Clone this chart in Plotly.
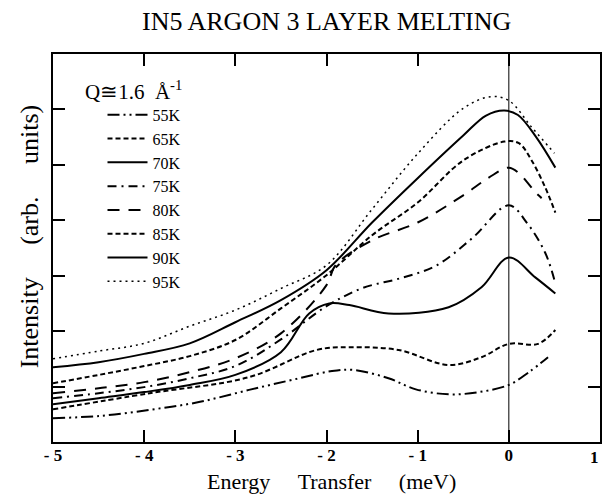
import plotly.graph_objects as go

# ---- data (energy transfer in meV, intensity in arb. units) ----
labels = ["55K", "65K", "70K", "75K", "80K", "85K", "90K", "95K"]

x55 = [-5, -4.49, -3.94, -3.40, -2.85, -2.30, -1.94, -1.70, -1.32, -1.02, -0.66, -0.33, 0.0, 0.22, 0.43]
y55 = [0.43, 0.47, 0.58, 0.72, 0.94, 1.15, 1.28, 1.30, 1.15, 0.95, 0.86, 0.90, 1.03, 1.26, 1.53]

x65 = [-5, -3.94, -2.85, -2.11, -1.75, -1.21, -0.66, -0.30, 0.0, 0.32, 0.51]
y65 = [0.59, 0.88, 1.17, 1.66, 1.71, 1.66, 1.39, 1.53, 1.77, 1.77, 2.02]

x70 = [-5, -4.5, -4, -3.5, -3, -2.5, -2.19, -1.97, -1.75, -1.32, -0.66, -0.30, 0.0, 0.29, 0.51]
y70 = [0.68, 0.79, 0.90, 1.03, 1.21, 1.62, 2.32, 2.50, 2.47, 2.32, 2.43, 2.79, 3.33, 2.97, 2.68]

x75 = [-5, -4.5, -4, -3.5, -3, -2.5, -2.0, -1.6, -1.2, -0.8, -0.4, 0.0, 0.2, 0.4, 0.51]
y75 = [0.79, 0.88, 0.99, 1.15, 1.37, 1.85, 2.45, 2.78, 2.95, 3.18, 3.68, 4.27, 3.95, 3.41, 2.86]

x80 = [-5, -4.5, -4, -3.5, -3, -2.5, -2.0, -1.9, -1.5, -1.0, -0.5, -0.22, 0.0, 0.11, 0.30, 0.36]
y80 = [0.88, 0.97, 1.08, 1.26, 1.51, 1.96, 2.83, 3.19, 3.64, 3.96, 4.45, 4.77, 4.95, 4.85, 4.49, 4.40]

x85 = [-5, -4.5, -4, -3.5, -3, -2.5, -2.0, -1.5, -1.0, -0.5, -0.05, 0.11, 0.25, 0.40, 0.51]
y85 = [1.06, 1.21, 1.37, 1.55, 1.84, 2.41, 3.01, 3.73, 4.32, 5.08, 5.42, 5.39, 5.08, 4.59, 4.14]

x90 = [-5, -4.5, -4, -3.5, -3, -2.5, -2.0, -1.5, -1.0, -0.5, -0.25, -0.05, 0.1, 0.3, 0.51]
y90 = [1.35, 1.44, 1.59, 1.78, 2.16, 2.56, 3.10, 3.96, 4.76, 5.53, 5.89, 5.98, 5.90, 5.50, 4.95]

x95 = [-5, -4.5, -4, -3.5, -3, -2.5, -2.0, -1.5, -1.0, -0.5, -0.2, 0.0, 0.25, 0.50]
y95 = [1.50, 1.64, 1.78, 2.09, 2.38, 2.77, 3.19, 4.20, 5.20, 6.02, 6.23, 6.16, 5.68, 5.21]

xs = [x55, x65, x70, x75, x80, x85, x90, x95]
ys = [y55, y65, y70, y75, y80, y85, y90, y95]
dashes = ["12px,4px,2px,4px,2px,4px", "5px,3px", "solid", "9px,5px,2px,5px",
          "12px,9px", "5px,3px", "solid", "2px,4px"]
widths = [2, 2, 2, 2, 2, 2, 2, 1.5]

x_ticks = [-5, -4, -3, -2, -1, 0, 1]
x_ticktext = ["- 5", "- 4", "- 3", "- 2", "- 1", "0", ""]
last_tick_text = "1"
y_ticks = [1, 2, 3, 4, 5, 6]

SERIF = "Liberation Serif, Times New Roman, serif"
NB = "\u00a0"

fig = go.Figure()
for name, x, y, d, w in zip(labels, xs, ys, dashes, widths):
    fig.add_trace(go.Scatter(
        x=x, y=y, mode="lines", name=name,
        line=dict(color="black", width=w, dash=d, shape="spline", smoothing=1.0),
    ))

# vertical line at zero energy transfer
fig.add_shape(type="line", xref="x", yref="y", x0=0, x1=0, y0=0, y1=7,
              line=dict(color="black", width=1))

fig.update_layout(
    width=603, height=495,
    margin=dict(l=53, r=1, t=54, b=53),
    paper_bgcolor="white", plot_bgcolor="white",
    font=dict(family=SERIF, color="black"),
    showlegend=True,
    legend=dict(
        x=0.0905, y=0.887, xanchor="left", yanchor="top",
        bgcolor="rgba(0,0,0,0)", borderwidth=0,
        font=dict(size=16, family=SERIF),
        tracegroupgap=0, itemwidth=40,
    ),
    xaxis=dict(
        range=[-5, 1], tickvals=x_ticks, ticktext=x_ticktext,
        ticks="inside", ticklen=12, tickwidth=1.5, tickcolor="black",
        showline=True, linewidth=2, linecolor="black", mirror="ticks",
        showgrid=False, zeroline=False, ticklabelstandoff=-3,
        tickfont=dict(size=17, family=SERIF, weight="bold"),
    ),
    yaxis=dict(
        range=[0, 7], tickvals=y_ticks, showticklabels=False,
        ticks="inside", ticklen=12, tickwidth=1.5, tickcolor="black",
        showline=True, linewidth=2, linecolor="black", mirror="ticks",
        showgrid=False, zeroline=False,
    ),
    annotations=[
        dict(text="IN5 ARGON 3 LAYER MELTING", xref="paper", yref="paper",
             x=0.5, y=1.0, yshift=33, xanchor="center", yanchor="middle",
             showarrow=False, font=dict(size=26, family=SERIF)),
        dict(text="Q≅1.6" + NB * 2 + "Å<sup>-1</sup>", xref="paper", yref="paper",
             x=0.055, y=0.905, xanchor="left", yanchor="middle",
             showarrow=False, font=dict(size=21, family=SERIF)),
        dict(text="<b>" + last_tick_text + "</b>", xref="paper", yref="paper",
             x=1, xshift=1, y=0, yshift=-15, xanchor="right", yanchor="middle",
             showarrow=False, font=dict(size=17, family=SERIF)),
        dict(text="Energy" + NB * 5 + "Transfer" + NB * 5 + "(meV)",
             xref="paper", yref="paper",
             x=0.51, y=0, yshift=-39, xanchor="center", yanchor="middle",
             showarrow=False, font=dict(size=22, family=SERIF)),
        dict(text="Intensity" + NB * 5 + "(arb." + NB * 5 + "units)",
             xref="paper", yref="paper",
             x=0, xshift=-24, y=0.53, xanchor="center", yanchor="middle",
             textangle=-90, showarrow=False, font=dict(size=26, family=SERIF)),
    ],
)

fig.write_html("out.html")
